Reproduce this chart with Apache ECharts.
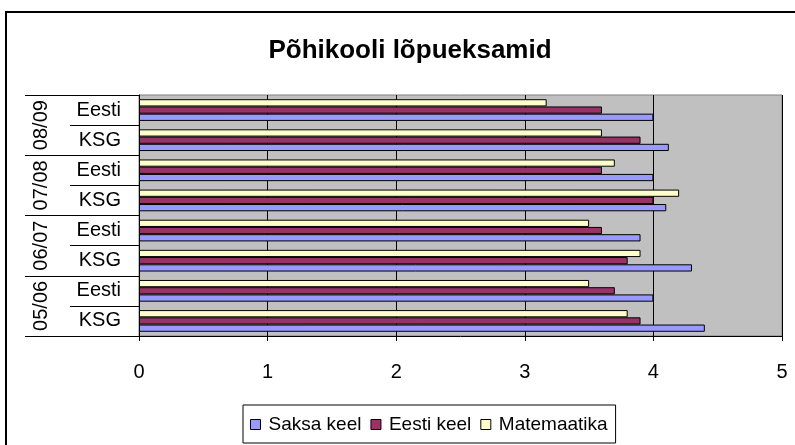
<!DOCTYPE html>
<html>
<head>
<meta charset="utf-8">
<script src="https://cdn.jsdelivr.net/npm/echarts@6/dist/echarts.min.js"></script>
<style>
    html, body { margin: 0; padding: 0; background: #fff; }
    #frame {
        position: absolute; left: 5px; top: 11px; width: 800px; height: 440px;
        border-top: 2px solid #000; border-left: 2px solid #000;
    }
    #chart { position: absolute; left: 0; top: 0; width: 795px; height: 445px; }
</style>
</head>
<body>
<div id="frame"></div>
<div id="chart"></div>
<script>
    // bottom to top, like the excel sheet
    const schools = ['KSG', 'Eesti', 'KSG', 'Eesti', 'KSG', 'Eesti', 'KSG', 'Eesti'];
    const years = ['05/06', '06/07', '07/08', '08/09'];
    const seriesNames = ['Saksa keel', 'Eesti keel', 'Matemaatika'];
    const saksaKeel   = [4.4, 4.0, 4.3, 3.9, 4.1, 4.0, 4.12, 4.0];
    const eestiKeel   = [3.9, 3.7, 3.8, 3.6, 4.0, 3.6, 3.9, 3.6];
    const matemaatika = [3.8, 3.5, 3.9, 3.5, 4.2, 3.7, 3.6, 3.17];
    const valueTicks = [0, 1, 2, 3, 4, 5];

    const colors = ['#9999FF', '#993366', '#FFFFCC'];
    const font = 'Liberation Sans, Arial, sans-serif';

    const makeSeries = (name, vals, color) => ({
        name: name,
        type: 'bar',
        yAxisIndex: 0,
        data: vals,
        barGap: '0%',
        barCategoryGap: '28%',
        itemStyle: { color: color, borderColor: '#000', borderWidth: 1 }
    });

    const chart = echarts.init(document.getElementById('chart'));
    const option = {
        animation: false,
        title: {
            text: 'Põhikooli lõpueksamid',
            left: 405,
            textAlign: 'center',
            top: 33,
            textStyle: { fontFamily: font, fontSize: 26, fontWeight: 'bold', color: '#000' }
        },
        legend: {
            data: seriesNames,
            left: 243,
            top: 405,
            padding: [10, 8, 9, 7],
            itemGap: 9,
            itemWidth: 10,
            itemHeight: 10,
            borderColor: '#000',
            borderWidth: 1,
            icon: 'rect',
            itemStyle: { borderColor: '#000', borderWidth: 1 },
            textStyle: { fontFamily: font, fontSize: 19, color: '#000', padding: [0, 0, 0, 3] }
        },
        grid: {
            left: 139,
            right: 13,
            top: 95,
            bottom: 109,
            show: true,
            backgroundColor: '#C0C0C0',
            borderColor: '#808080',
            borderWidth: 1
        },
        xAxis: {
            type: 'value',
            min: valueTicks[0],
            max: valueTicks[valueTicks.length - 1],
            interval: 1,
            axisLine: { show: true, lineStyle: { color: '#000', width: 1 } },
            axisTick: { show: true, length: 5, lineStyle: { color: '#000' } },
            axisLabel: { fontFamily: font, fontSize: 20, color: '#000', margin: 26 },
            splitLine: { show: true, lineStyle: { color: '#000', width: 1 } }
        },
        yAxis: [
            {
                type: 'category',
                data: schools,
                axisLine: { show: true, lineStyle: { color: '#000' } },
                axisTick: { show: true, interval: 0, length: 69, lineStyle: { color: '#000' } },
                axisLabel: { interval: 0, fontFamily: font, fontSize: 20, color: '#000', margin: 18 }
            },
            {
                type: 'category',
                data: years,
                position: 'left',
                axisLine: { show: false },
                axisTick: { show: true, interval: 0, length: 114, lineStyle: { color: '#000' } },
                axisLabel: { interval: 0, fontFamily: font, fontSize: 20, color: '#000', rotate: 90, margin: 88 }
            }
        ],
        // excel puts the first series at the bottom of each group
        series: [
            makeSeries(seriesNames[2], matemaatika, colors[2]),
            makeSeries(seriesNames[1], eestiKeel, colors[1]),
            makeSeries(seriesNames[0], saksaKeel, colors[0])
        ]
    };
    chart.setOption(option);
</script>
</body>
</html>
